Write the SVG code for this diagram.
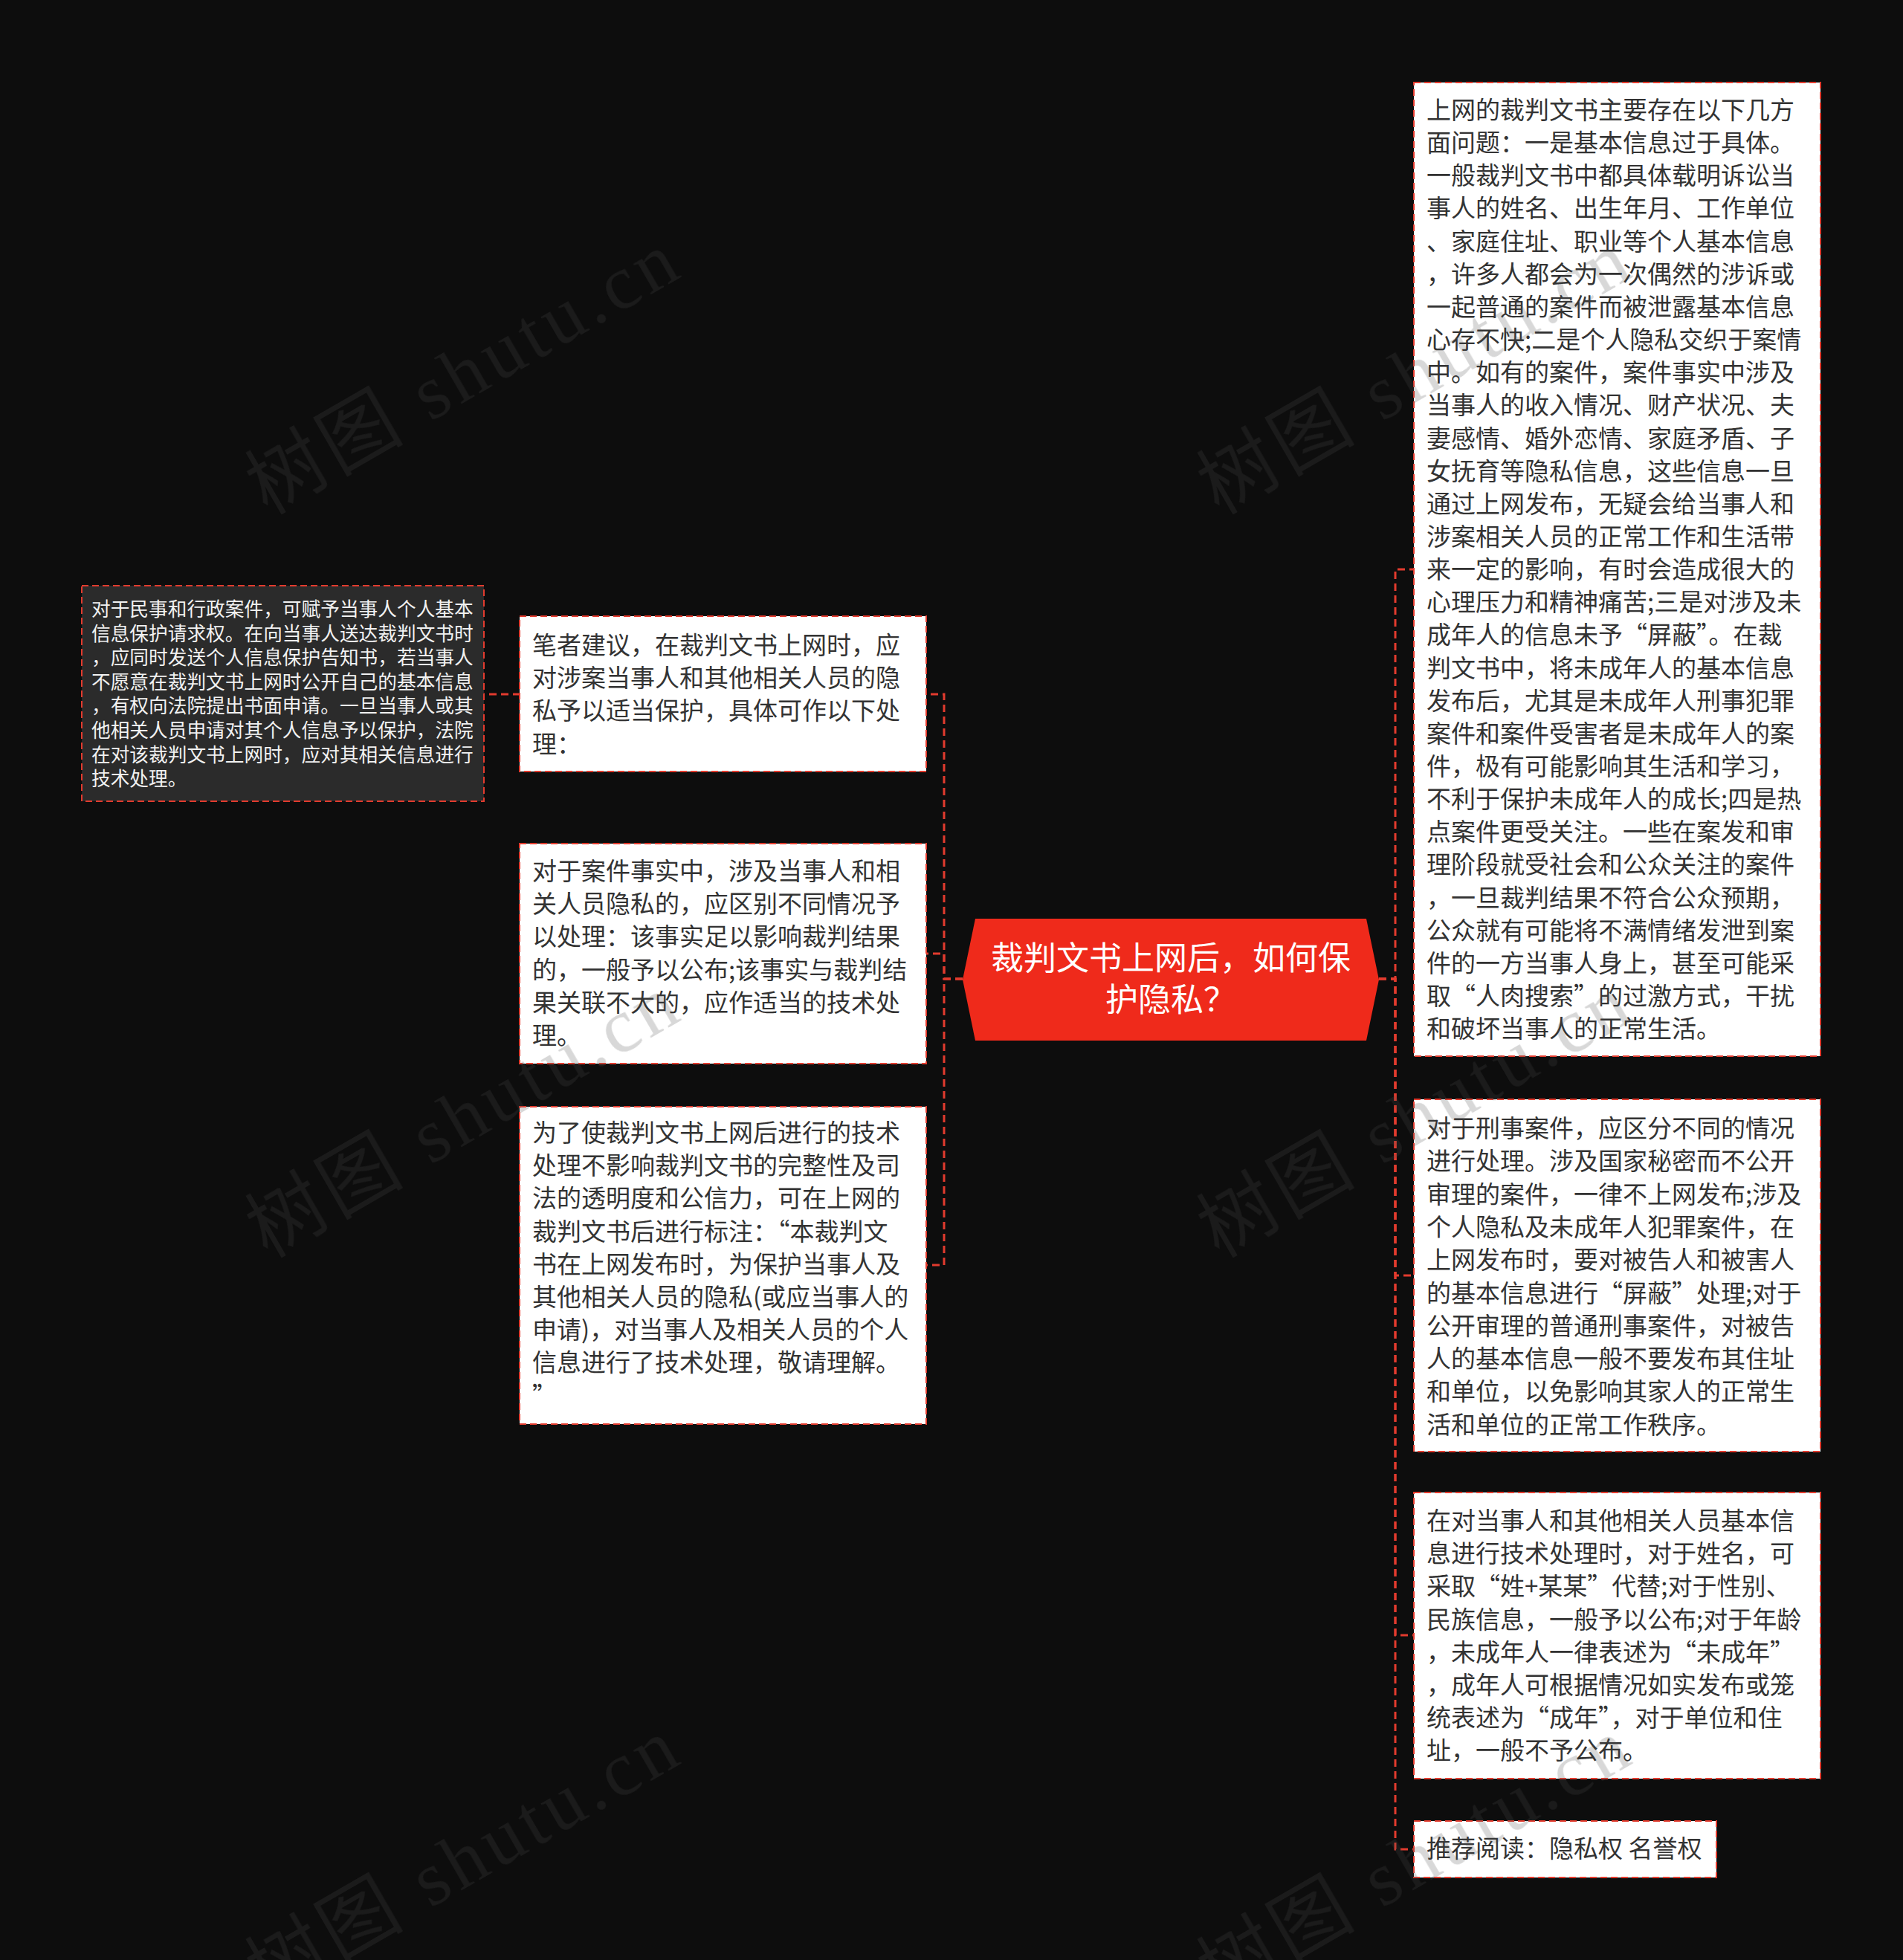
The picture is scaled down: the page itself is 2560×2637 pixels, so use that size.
<svg xmlns="http://www.w3.org/2000/svg" width="2560" height="2637" viewBox="0 0 2560 2637">
<style>
.bg{fill:#0d0d0d}
.box{fill:#ffffff;stroke:#e23b2e;stroke-width:2;stroke-dasharray:9 5}
.darkbox{fill:#2b2b2b;stroke:#e23b2e;stroke-width:2;stroke-dasharray:9 5}
.conn{fill:none;stroke:#e23b2e;stroke-width:3;stroke-dasharray:10 6}
.t{font-family:"Noto Sans CJK SC","Microsoft YaHei",sans-serif;font-size:33px;fill:#333333}
.ts{font-family:"Noto Sans CJK SC","Microsoft YaHei",sans-serif;font-size:25.7px;fill:#f2f2f2}
.tc{font-family:"Noto Sans CJK SC","Microsoft YaHei",sans-serif;font-size:44px;fill:#ffffff;text-anchor:middle}
.wm{font-family:"Liberation Serif","Noto Sans CJK SC",serif;font-size:104px;fill:#4d4d4d}
</style>
<rect class="bg" x="0" y="0" width="2560" height="2637"/>

<g id="connectors">
<path class="conn" d="M1295 1317 H1270 V934 H1246"/>
<path class="conn" d="M1295 1317 H1270 V1283 H1246"/>
<path class="conn" d="M1295 1317 H1270 V1702 H1246"/>
<path class="conn" d="M700 934 H651"/>
<path class="conn" d="M1855 1317 H1877 V766 H1902"/>
<path class="conn" d="M1855 1317 H1877 V1716 H1902"/>
<path class="conn" d="M1855 1317 H1877 V2200 H1902"/>
<path class="conn" d="M1855 1317 H1877 V2488 H1902"/>
</g>

<g id="center">
<polygon points="1295,1318 1312,1236 1838,1236 1855,1318 1838,1400 1312,1400" fill="#ef2a1b"/>
<text class="tc"><tspan x="1575" y="1305">裁判文书上网后，如何保</tspan><tspan x="1575" y="1361">护隐私？</tspan></text>
</g>

<g id="left-1">
<rect class="box" x="699" y="829" width="547" height="209"/>
<text class="t"><tspan x="716" y="880">笔者建议，在裁判文书上网时，应</tspan><tspan x="716" dy="44.2">对涉案当事人和其他相关人员的隐</tspan><tspan x="716" dy="44.2">私予以适当保护，具体可作以下处</tspan><tspan x="716" dy="44.2">理：</tspan></text>
</g>

<g id="left-1-1">
<rect class="darkbox" x="110" y="788" width="541" height="290"/>
<text class="ts"><tspan x="123" y="829">对于民事和行政案件，可赋予当事人个人基本</tspan><tspan x="123" dy="32.6">信息保护请求权。在向当事人送达裁判文书时</tspan><tspan x="123" dy="32.6">，应同时发送个人信息保护告知书，若当事人</tspan><tspan x="123" dy="32.6">不愿意在裁判文书上网时公开自己的基本信息</tspan><tspan x="123" dy="32.6">，有权向法院提出书面申请。一旦当事人或其</tspan><tspan x="123" dy="32.6">他相关人员申请对其个人信息予以保护，法院</tspan><tspan x="123" dy="32.6">在对该裁判文书上网时，应对其相关信息进行</tspan><tspan x="123" dy="32.6">技术处理。</tspan></text>
</g>

<g id="left-2">
<rect class="box" x="699" y="1135" width="547" height="296"/>
<text class="t"><tspan x="716" y="1184">对于案件事实中，涉及当事人和相</tspan><tspan x="716" dy="44.2">关人员隐私的，应区别不同情况予</tspan><tspan x="716" dy="44.2">以处理：该事实足以影响裁判结果</tspan><tspan x="716" dy="44.2">的，一般予以公布;该事实与裁判结</tspan><tspan x="716" dy="44.2">果关联不大的，应作适当的技术处</tspan><tspan x="716" dy="44.2">理。</tspan></text>
</g>

<g id="left-3">
<rect class="box" x="699" y="1489" width="547" height="427"/>
<text class="t"><tspan x="716" y="1536">为了使裁判文书上网后进行的技术</tspan><tspan x="716" dy="44.2">处理不影响裁判文书的完整性及司</tspan><tspan x="716" dy="44.2">法的透明度和公信力，可在上网的</tspan><tspan x="716" dy="44.2">裁判文书后进行标注：“本裁判文</tspan><tspan x="716" dy="44.2">书在上网发布时，为保护当事人及</tspan><tspan x="716" dy="44.2">其他相关人员的隐私(或应当事人的</tspan><tspan x="716" dy="44.2">申请)，对当事人及相关人员的个人</tspan><tspan x="716" dy="44.2">信息进行了技术处理，敬请理解。</tspan><tspan x="716" dy="44.2">”</tspan></text>
</g>

<g id="right-1">
<rect class="box" x="1902" y="111" width="547" height="1310"/>
<text class="t"><tspan x="1919" y="160">上网的裁判文书主要存在以下几方</tspan><tspan x="1919" dy="44.15">面问题：一是基本信息过于具体。</tspan><tspan x="1919" dy="44.15">一般裁判文书中都具体载明诉讼当</tspan><tspan x="1919" dy="44.15">事人的姓名、出生年月、工作单位</tspan><tspan x="1919" dy="44.15">、家庭住址、职业等个人基本信息</tspan><tspan x="1919" dy="44.15">，许多人都会为一次偶然的涉诉或</tspan><tspan x="1919" dy="44.15">一起普通的案件而被泄露基本信息</tspan><tspan x="1919" dy="44.15">心存不快;二是个人隐私交织于案情</tspan><tspan x="1919" dy="44.15">中。如有的案件，案件事实中涉及</tspan><tspan x="1919" dy="44.15">当事人的收入情况、财产状况、夫</tspan><tspan x="1919" dy="44.15">妻感情、婚外恋情、家庭矛盾、子</tspan><tspan x="1919" dy="44.15">女抚育等隐私信息，这些信息一旦</tspan><tspan x="1919" dy="44.15">通过上网发布，无疑会给当事人和</tspan><tspan x="1919" dy="44.15">涉案相关人员的正常工作和生活带</tspan><tspan x="1919" dy="44.15">来一定的影响，有时会造成很大的</tspan><tspan x="1919" dy="44.15">心理压力和精神痛苦;三是对涉及未</tspan><tspan x="1919" dy="44.15">成年人的信息未予“屏蔽”。在裁</tspan><tspan x="1919" dy="44.15">判文书中，将未成年人的基本信息</tspan><tspan x="1919" dy="44.15">发布后，尤其是未成年人刑事犯罪</tspan><tspan x="1919" dy="44.15">案件和案件受害者是未成年人的案</tspan><tspan x="1919" dy="44.15">件，极有可能影响其生活和学习，</tspan><tspan x="1919" dy="44.15">不利于保护未成年人的成长;四是热</tspan><tspan x="1919" dy="44.15">点案件更受关注。一些在案发和审</tspan><tspan x="1919" dy="44.15">理阶段就受社会和公众关注的案件</tspan><tspan x="1919" dy="44.15">，一旦裁判结果不符合公众预期，</tspan><tspan x="1919" dy="44.15">公众就有可能将不满情绪发泄到案</tspan><tspan x="1919" dy="44.15">件的一方当事人身上，甚至可能采</tspan><tspan x="1919" dy="44.15">取“人肉搜索”的过激方式，干扰</tspan><tspan x="1919" dy="44.15">和破坏当事人的正常生活。</tspan></text>
</g>

<g id="right-2">
<rect class="box" x="1902" y="1479" width="547" height="474"/>
<text class="t"><tspan x="1919" y="1530">对于刑事案件，应区分不同的情况</tspan><tspan x="1919" dy="44.3">进行处理。涉及国家秘密而不公开</tspan><tspan x="1919" dy="44.3">审理的案件，一律不上网发布;涉及</tspan><tspan x="1919" dy="44.3">个人隐私及未成年人犯罪案件，在</tspan><tspan x="1919" dy="44.3">上网发布时，要对被告人和被害人</tspan><tspan x="1919" dy="44.3">的基本信息进行“屏蔽”处理;对于</tspan><tspan x="1919" dy="44.3">公开审理的普通刑事案件，对被告</tspan><tspan x="1919" dy="44.3">人的基本信息一般不要发布其住址</tspan><tspan x="1919" dy="44.3">和单位，以免影响其家人的正常生</tspan><tspan x="1919" dy="44.3">活和单位的正常工作秩序。</tspan></text>
</g>

<g id="right-3">
<rect class="box" x="1902" y="2008" width="547" height="385"/>
<text class="t"><tspan x="1919" y="2058">在对当事人和其他相关人员基本信</tspan><tspan x="1919" dy="44.2">息进行技术处理时，对于姓名，可</tspan><tspan x="1919" dy="44.2">采取“姓+某某”代替;对于性别、</tspan><tspan x="1919" dy="44.2">民族信息，一般予以公布;对于年龄</tspan><tspan x="1919" dy="44.2">，未成年人一律表述为“未成年”</tspan><tspan x="1919" dy="44.2">，成年人可根据情况如实发布或笼</tspan><tspan x="1919" dy="44.2">统表述为“成年”，对于单位和住</tspan><tspan x="1919" dy="44.2">址，一般不予公布。</tspan></text>
</g>

<g id="right-4">
<rect class="box" x="1902" y="2450" width="407" height="76"/>
<text class="t" x="1919" y="2499">推荐阅读：隐私权 名誉权</text>
</g>

<g id="watermark" opacity="0.22">
<text class="wm" transform="translate(360,694) rotate(-30)" textLength="645" lengthAdjust="spacing">树图 shutu.cn</text>
<text class="wm" transform="translate(360,1694) rotate(-30)" textLength="645" lengthAdjust="spacing">树图 shutu.cn</text>
<text class="wm" transform="translate(360,2694) rotate(-30)" textLength="645" lengthAdjust="spacing">树图 shutu.cn</text>
<text class="wm" transform="translate(1640,694) rotate(-30)" textLength="645" lengthAdjust="spacing">树图 shutu.cn</text>
<text class="wm" transform="translate(1640,1694) rotate(-30)" textLength="645" lengthAdjust="spacing">树图 shutu.cn</text>
<text class="wm" transform="translate(1640,2694) rotate(-30)" textLength="645" lengthAdjust="spacing">树图 shutu.cn</text>
</g>
</svg>
